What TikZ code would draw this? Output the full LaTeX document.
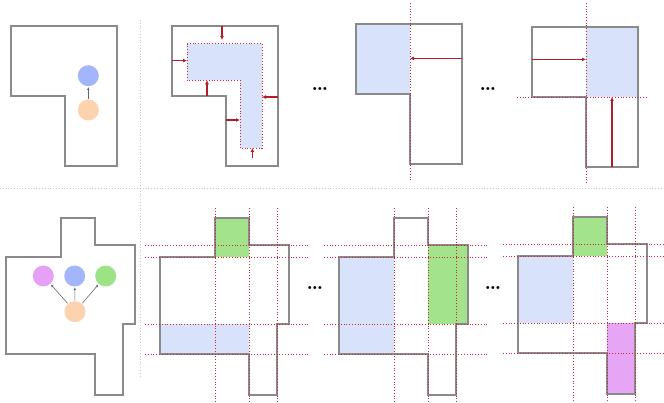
\documentclass[tikz,border=0pt]{standalone}
\usetikzlibrary{arrows.meta}
\usepackage{xcolor}
\definecolor{outlineGray}{HTML}{8A8A8A}
\definecolor{sepGray}{HTML}{C8C8C8}
\definecolor{cutRed}{HTML}{C8283C}
\definecolor{pushRed}{HTML}{B01E2A}
\definecolor{regionBlue}{HTML}{D9E2FB}
\definecolor{regionGreen}{HTML}{A2E38C}
\definecolor{regionPink}{HTML}{E6A6F5}
\definecolor{dotBlue}{HTML}{A3B6FC}
\definecolor{dotOrange}{HTML}{FDD2AE}
\definecolor{dotGreen}{HTML}{9CE287}
\definecolor{dotPink}{HTML}{E6A0F8}
\newcommand{\outlineWidth}{2pt}
\newcommand{\dotSize}{21pt}
% L-shaped room (top row) and cross-shaped room (bottom row)
\newcommand{\topRoom}{(0,0) -- (106,0) -- (106,140) -- (54,140) -- (54,70) -- (0,70) -- cycle}
\newcommand{\bottomRoom}{(55,0) -- (89,0) -- (89,27) -- (129,27) -- (129,106) -- (117,106) -- (117,177) -- (89,177) -- (89,136) -- (0,136) -- (0,39) -- (55,39) -- cycle}
\newcommand{\bottomCuts}{
  \draw[cutline] (55,-10) -- (55,186);
  \draw[cutline] (89,-10) -- (89,186);
  \draw[cutline] (117,-10) -- (117,186);
  \draw[cutline] (-15,27) -- (148,27);
  \draw[cutline] (-15,39) -- (148,39);
  \draw[cutline] (-15,106) -- (148,106);
  \draw[cutline] (-15,136) -- (148,136);
}

\begin{document}
\begin{tikzpicture}[x=1pt, y=-1pt,
    room/.style={draw=outlineGray, line width=\outlineWidth, line join=miter},
    cutline/.style={cutRed, line width=0.8pt, dotted},
    separator/.style={sepGray, line width=0.8pt, dotted},
    pushArrow/.style={pushRed, line width=1.2pt, -{Latex[length=4pt,width=4pt]}},
    flowArrow/.style={black!60, line width=0.6pt, -{Latex[length=3pt,width=2.5pt]}, shorten <=0.5pt, shorten >=0.5pt},
    roomDot/.style={circle, inner sep=0pt, minimum size=\dotSize},
    skipDots/.style={font=\huge\bfseries, inner sep=0pt}]

\useasboundingbox (0,0) rectangle (664,403);

% separators
\draw[separator] (0,188) -- (664,188);
\draw[separator] (140,20) -- (140,377);

%%%% top row
% input
\begin{scope}[shift={(11,26)}]
  \draw[room] \topRoom;
\end{scope}
\node[roomDot, fill=dotBlue] (topBlue) at (88.3,75.7) {};
\node[roomDot, fill=dotOrange] (topOrange) at (88.3,110) {};
\draw[flowArrow] (topOrange) -- (topBlue);

% shrink
\begin{scope}[shift={(172,26)}]
  \fill[regionBlue] (15,17.6) -- (90,17.6) -- (90,122) -- (68,122) -- (68,54.3) -- (15,54.3) -- cycle;
  \draw[cutline] (15,17.6) -- (90,17.6) -- (90,122) -- (68,122) -- (68,54.3) -- (15,54.3) -- cycle;
  \draw[room] \topRoom;
  \coordinate (shTopA) at (50,0);      \coordinate (shTopB) at (50,14);
  \coordinate (shLeftA) at (0,34.6);   \coordinate (shLeftB) at (15,34.6);
  \coordinate (shNotchA) at (35,70);   \coordinate (shNotchB) at (35,54.3);
  \coordinate (shRightA) at (106,71);  \coordinate (shRightB) at (90,71);
  \coordinate (shInA) at (54,94);      \coordinate (shInB) at (68,94);
  \coordinate (shBotA) at (80.4,132);  \coordinate (shBotB) at (80.4,122);
  \draw[pushArrow] (shTopA) -- (shTopB);
  \draw[pushArrow] (shLeftA) -- (shLeftB);
  \draw[pushArrow] (shNotchA) -- (shNotchB);
  \draw[pushArrow] (shRightA) -- (shRightB);
  \draw[pushArrow] (shInA) -- (shInB);
  \draw[pushArrow] (shBotA) -- (shBotB);
\end{scope}

\node[skipDots] (dotsTopA) at (320,89) {\ldots};

% first cut
\begin{scope}[shift={(356,24)}]
  \fill[regionBlue] (0,0) rectangle (54,70);
  \draw[room] \topRoom;
  \draw[cutline] (54,-21) -- (54,157.5);
  \coordinate (cutOneA) at (106,34.4); \coordinate (cutOneB) at (54,34.4);
  \draw[pushArrow] (cutOneA) -- (cutOneB);
\end{scope}

\node[skipDots] (dotsTopB) at (488,89) {\ldots};

% second cut
\begin{scope}[shift={(532,27)}]
  \fill[regionBlue] (54,0) rectangle (106,70);
  \draw[room] \topRoom;
  \draw[cutline] (54,-24) -- (54,156);
  \draw[cutline] (-15,70) -- (116,70);
  \coordinate (cutTwoA) at (0,32.4);   \coordinate (cutTwoB) at (54,32.4);
  \coordinate (cutThreeA) at (80,140); \coordinate (cutThreeB) at (80,70);
  \draw[pushArrow] (cutTwoA) -- (cutTwoB);
  \draw[pushArrow] (cutThreeA) -- (cutThreeB);
\end{scope}

%%%% bottom row
% input
\begin{scope}[shift={(6,218)}]
  \draw[room] \bottomRoom;
\end{scope}
\node[roomDot, fill=dotPink] (botPink) at (43.3,276) {};
\node[roomDot, fill=dotBlue] (botBlue) at (74.7,276) {};
\node[roomDot, fill=dotGreen] (botGreen) at (105.7,276) {};
\node[roomDot, fill=dotOrange] (botOrange) at (75,311.7) {};
\draw[flowArrow] (botOrange) -- (botPink);
\draw[flowArrow] (botOrange) -- (botBlue);
\draw[flowArrow] (botOrange) -- (botGreen);

% grid, two rooms
\begin{scope}[shift={(160,218)}]
  \fill[regionGreen] (55,0) rectangle (89,39);
  \fill[regionBlue] (0,106) rectangle (89,136);
  \draw[room] \bottomRoom;
  \bottomCuts
\end{scope}

\node[skipDots] (dotsBotA) at (315,288) {\ldots};

\begin{scope}[shift={(339,218)}]
  \fill[regionBlue] (0,39) rectangle (55,136);
  \fill[regionGreen] (89,27) rectangle (129,106);
  \draw[room] \bottomRoom;
  \bottomCuts
\end{scope}

\node[skipDots] (dotsBotB) at (493,288) {\ldots};

\begin{scope}[shift={(518,217)}]
  \fill[regionGreen] (55,0) rectangle (89,39);
  \fill[regionBlue] (0,39) rectangle (55,106);
  \fill[regionPink] (89,106) rectangle (117,177);
  \draw[room] \bottomRoom;
  \bottomCuts
\end{scope}

\end{tikzpicture}
\end{document}
